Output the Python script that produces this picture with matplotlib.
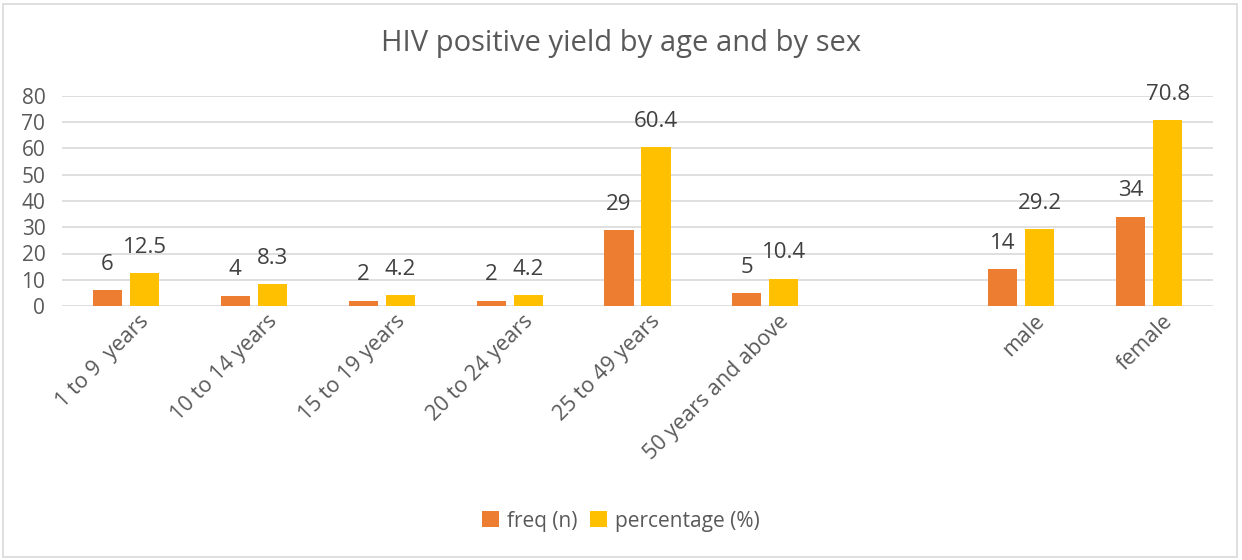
import matplotlib
matplotlib.use("Agg")
import matplotlib.pyplot as plt
import matplotlib.transforms as mtransforms
import numpy as np
from matplotlib.patches import Rectangle

# categories (empty slot separates age groups from sex)
categories = ["1 to 9  years", "10 to 14 years", "15 to 19 years", "20 to 24 years",
              "25 to 49 years", "50 years and above", "", "male", "female"]
freq = [6, 4, 2, 2, 29, 5, None, 14, 34]
percentage = [12.5, 8.3, 4.2, 4.2, 60.4, 10.4, None, 29.2, 70.8]

plt.rcParams["font.family"] = ["Open Sans", "DejaVu Sans"]
text_color = "#595959"

fig = plt.figure(figsize=(12.42, 5.6), dpi=100)
ax = fig.add_axes([62 / 1242, 1 - 306 / 560, (1213 - 62) / 1242, 210 / 560])

x = np.arange(len(categories))
w = 0.227
gap = 0.0625
idx = [i for i, v in enumerate(freq) if v is not None]
f_vals = [freq[i] for i in idx]
p_vals = [percentage[i] for i in idx]
xs = x[idx]

b1 = ax.bar(xs - (w + gap) / 2, f_vals, w, color="#ED7D31", label="freq (n)", zorder=3)
b2 = ax.bar(xs + (w + gap) / 2, p_vals, w, color="#FFC000", label="percentage (%)", zorder=3)

for bars, vals in [(b1, f_vals), (b2, p_vals)]:
    for rect, v in zip(bars, vals):
        ax.annotate(f"{v:g}", (rect.get_x() + rect.get_width() / 2, rect.get_height()),
                    xytext=(0, 11), textcoords="offset points", ha="center", va="bottom",
                    fontsize=16, color="#404040")

ax.set_xlim(-0.5, len(categories) - 0.5)
ax.set_ylim(0, 80)
ax.set_yticks(range(0, 90, 10))
ax.yaxis.grid(True, color="#D9D9D9", linewidth=1.2, zorder=0)
ax.set_axisbelow(True)
for s in ax.spines.values():
    s.set_visible(False)
ax.tick_params(axis="both", length=0, colors=text_color)
ax.tick_params(axis="y", pad=12, labelsize=15)
ax.set_xticks(x)
ax.set_xticklabels(categories, rotation=45, ha="right", va="center",
                   rotation_mode="anchor", fontsize=15.5)
ax.tick_params(axis="x", pad=9)
shift = mtransforms.ScaledTranslation(20 / 100, 0, fig.dpi_scale_trans)
for lbl in ax.get_xticklabels():
    lbl.set_transform(lbl.get_transform() + shift)

fig.text(0.5, 1 - 43 / 560, "HIV positive yield by age and by sex", ha="center", va="center",
         fontsize=21, color=text_color)

fig.legend(handles=[b1, b2], loc="center", bbox_to_anchor=(0.5, 1 - 521 / 560), ncol=2,
           frameon=False, fontsize=15, handlelength=0.8, handleheight=0.8,
           handletextpad=0.4, columnspacing=0.6, labelcolor=text_color)

fig.patches.append(Rectangle((3 / 1242, 3 / 560), 1234 / 1242, 553 / 560,
                             transform=fig.transFigure, fill=False, edgecolor="#D9D9D9",
                             linewidth=1.2))

fig.savefig("out.png", dpi=100)
plt.close(fig)
